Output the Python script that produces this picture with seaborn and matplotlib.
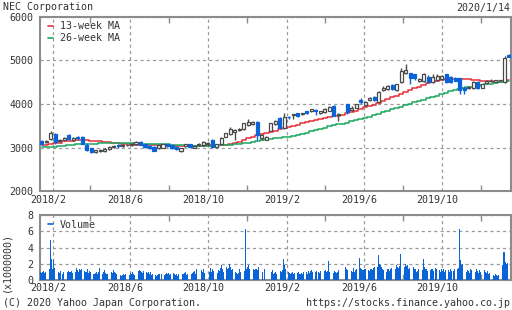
import numpy as np
import pandas as pd
import matplotlib
matplotlib.use("Agg")
import matplotlib.pyplot as plt
import matplotlib.dates as mdates
import matplotlib.transforms as mtransforms
from matplotlib.lines import Line2D
from matplotlib.ticker import FixedLocator, NullFormatter
import seaborn as sns

# ---------------- data ----------------
week_start = "2018-01-15"
n_weeks = 105
nan = float("nan")

opens = [3150, 3120, 3190, 3320, 3160, 3180, 3280, 3180, 3240, 3250,
         3050, 2990, 2890, 2930, 2920, 2960, 3020, 3060, 3040, 3060,
         3060, 3080, 3130, 3070, 3040, 3020, 2980, 3000, 3070, 3050,
         3020, 2920, 3030, 3070, 3000, 3050, 3055, 3080, 3170, 3020,
         3070, 3250, 3300, 3360, 3400, 3415, 3515, 3540, 3580, 3210,
         3180, 3385, 3530, 3670, 3440, 3700, 3740, 3785, 3770, 3840,
         3830, 3860, 3800, 3820, 3850, 3960, 3750, nan, 3990, 3860,
         3915, 4090, 3975, 4090, 4165, 4040, 4320, 4345, 4435, 4320,
         4500, 4705, 4705, 4680, 4530, 4530, 4630, 4500, 4550, 4580,
         4680, 4630, 4600, 4590, 4370, 4360, 4360, 4500, 4375, 4480,
         4530, 4510, 4545, 4500, 5125]
highs = [3170, 3170, 3380, 3330, 3200, 3230, 3300, 3240, 3270, 3260,
         3100, 3000, 2950, 2960, 2980, 3030, 3060, 3070, 3080, 3080,
         3100, 3140, 3140, 3090, 3060, 3030, 3060, 3090, 3090, 3060,
         3030, 3000, 3080, 3080, 3050, 3100, 3150, 3130, 3190, 3080,
         3240, 3340, 3460, 3420, 3450, 3570, 3650, 3600, 3600, 3300,
         3270, 3570, 3640, 3690, 3800, 3720, 3780, 3800, 3800, 3850,
         3890, 3880, 3850, 3900, 3960, 3980, 3800, nan, 4000, 3960,
         4010, 4140, 4060, 4160, 4180, 4290, 4420, 4440, 4450, 4460,
         4820, 4910, 4720, 4700, 4600, 4720, 4660, 4700, 4690, 4670,
         4700, 4650, 4620, 4600, 4420, 4420, 4520, 4520, 4460, 4550,
         4570, 4560, 4560, 5100, 5140]
lows = [3060, 3100, 3180, 3070, 3130, 3150, 3180, 3160, 3170, 3070,
        2930, 2880, 2880, 2900, 2900, 2950, 3000, 2990, 3020, 3040,
        3040, 3060, 3050, 2990, 2970, 2910, 2960, 2990, 3020, 2970,
        2940, 2900, 3020, 3010, 2990, 3040, 3040, 3060, 3000, 3000,
        3060, 3230, 3280, 3170, 3380, 3400, 3500, 3520, 3170, 3170,
        3170, 3370, 3520, 3440, 3430, 3660, 3660, 3700, 3750, 3770,
        3810, 3740, 3780, 3800, 3830, 3720, 3620, nan, 3780, 3850,
        3900, 3990, 3960, 4080, 4060, 4030, 4310, 4330, 4330, 4300,
        4490, 4690, 4450, 4560, 4510, 4510, 4490, 4480, 4530, 4560,
        4480, 4490, 4520, 4225, 4230, 4340, 4350, 4340, 4360, 4470,
        4510, 4500, 4530, 4490, 5080]
closes = [3080, 3160, 3330, 3130, 3180, 3210, 3200, 3220, 3220, 3080,
          2940, 2890, 2940, 2950, 2970, 3020, 3040, 3040, 3060, 3065,
          3090, 3130, 3060, 3010, 2980, 2925, 3050, 3080, 3030, 2980,
          2960, 2990, 3070, 3020, 3040, 3090, 3130, 3110, 3020, 3070,
          3225, 3325, 3415, 3400, 3430, 3555, 3580, 3580, 3290, 3280,
          3250, 3555, 3610, 3455, 3705, 3690, 3760, 3725, 3785, 3785,
          3875, 3850, 3830, 3880, 3920, 3730, 3780, nan, 3810, 3915,
          3990, 4050, 4050, 4145, 4090, 4270, 4375, 4420, 4345, 4450,
          4760, 4780, 4605, 4600, 4575, 4690, 4510, 4630, 4650, 4650,
          4510, 4510, 4540, 4320, 4330, 4400, 4500, 4360, 4450, 4530,
          4540, 4550, 4550, 5050, 5090]

ma13 = [3055, 3060, 3080, 3095, 3110, 3140, 3150, 3160, 3165, 3170,
        3165, 3160, 3155, 3145, 3135, 3125, 3110, 3100, 3090, 3080,
        3070, 3065, 3060, 3060, 3055, 3050, 3050, 3045, 3045, 3040,
        3040, 3035, 3030, 3030, 3025, 3025, 3030, 3040, 3050, 3055,
        3060, 3065, 3075, 3100, 3130, 3170, 3215, 3250, 3280, 3310,
        3340, 3365, 3390, 3415, 3445, 3470, 3500, 3525, 3555, 3585,
        3610, 3635, 3660, 3680, 3700, 3715, 3730, 3745, 3790, 3810,
        3840, 3880, 3920, 3950, 3985, 4030, 4070, 4110, 4150, 4190,
        4240, 4280, 4320, 4360, 4400, 4440, 4480, 4510, 4540, 4560,
        4575, 4580, 4580, 4578, 4575, 4565, 4555, 4545, 4535, 4525,
        4520, 4515, 4515, 4530, 4550]
ma26 = [3010, 3012, 3015, 3020, 3030, 3040, 3050, 3060, 3070, 3075,
        3080, 3085, 3090, 3095, 3095, 3095, 3095, 3095, 3095, 3095,
        3092, 3090, 3090, 3088, 3085, 3082, 3080, 3075, 3070, 3065,
        3060, 3055, 3050, 3045, 3040, 3035, 3035, 3035, 3040, 3045,
        3050, 3055, 3060, 3070, 3080, 3095, 3110, 3135, 3160, 3175,
        3190, 3200, 3210, 3220, 3235, 3250, 3270, 3290, 3310, 3340,
        3370, 3400, 3425, 3455, 3490, 3510, 3530, 3550, 3570, 3600,
        3630, 3650, 3680, 3710, 3745, 3780, 3815, 3850, 3880, 3910,
        3940, 3970, 4000, 4040, 4070, 4100, 4130, 4160, 4190, 4220,
        4260, 4290, 4320, 4340, 4360, 4380, 4400, 4415, 4430, 4450,
        4470, 4490, 4500, 4515, 4530]

# daily volume (x 1,000,000 shares), grouped by week
volume_by_week = [
    [0.8, 1.0, 0.9, 1.0, 1.1], [0.9, 1.0, 0.8, 1.1, 0.9], [0.9, 1.4, 4.9, 2.6, 1.3],
    [2.5, 1.5, 1.3, 1.2, 1.2], [1.0, 1.0, 0.9, 1.1], [0.8, 1.0, 1.0, 0.9, 0.7],
    [0.9, 1.0, 1.1, 1.0, 1.0], [1.1, 0.9, 1.2, 1.1, 1.0], [1.0, 1.5, 1.2, 1.0, 1.3],
    [1.2, 1.4, 1.6, 1.7], [1.1, 1.0, 1.0, 1.3, 0.9], [1.1, 1.0, 1.0, 0.9, 0.9],
    [0.8, 0.8, 0.9, 1.0, 0.7], [1.0, 1.5, 0.9, 0.8, 0.9], [0.8, 1.0, 1.2, 0.9, 0.8],
    [0.7, 0.9], [1.0, 0.9, 1.2, 1.0, 0.9], [0.8, 0.9, 1.0, 0.8, 0.7],
    [0.6, 0.5, 0.6, 0.7, 0.6], [0.7, 2.0, 0.9, 0.7, 0.8], [0.6, 0.9, 0.7, 1.0, 0.8],
    [0.6, 0.8, 1.0, 0.9, 0.7], [1.1, 1.2, 1.1, 1.0, 0.9], [1.1, 1.0, 0.9, 0.8, 1.0],
    [0.9, 1.0, 0.8, 1.0, 0.6], [0.7, 1.0, 0.8, 1.0, 0.6], [0.5, 0.6, 0.8, 0.7],
    [0.7, 0.6, 0.5, 0.8, 0.6], [0.8, 0.9, 0.7, 0.9, 0.6], [0.8, 0.7, 0.9, 0.6, 0.9],
    [0.7, 0.6, 0.8, 0.5, 0.7], [0.6, 0.8, 0.5, 0.6, 0.8], [0.7, 0.9, 1.0, 0.6, 0.7],
    [1.0, 0.8, 0.6, 0.9, 0.7], [0.9, 1.0, 1.1, 0.8, 1.3], [0.9, 1.0, 1.3, 0.8],
    [1.2, 1.0, 1.4, 0.9], [1.0, 1.3, 1.7, 1.2, 1.0], [1.5, 1.0, 1.3, 1.1],
    [0.9, 0.8, 0.7, 0.9, 1.2], [1.1, 1.5, 1.8, 1.4, 1.0], [1.2, 1.9, 2.6, 1.6, 1.4],
    [1.5, 2.0, 1.6, 1.2, 1.4], [1.8, 1.5, 1.3, 1.0, 0.9], [0.8, 0.9, 1.3, 1.0],
    [1.0, 1.3, 1.5, 1.1, 6.3], [1.4, 1.6, 1.9, 1.3, 1.8], [1.7, 2.0, 1.6, 1.4, 1.2],
    [1.3, 1.4, 1.2, 1.6, 1.9], [1.3, 1.2, 1.0, 1.0], [1.4],
    [1.6, 1.4, 1.2, 1.0, 1.2], [0.8, 0.9, 1.0, 0.7], [1.0, 0.8, 0.9, 1.1, 1.0],
    [1.2, 2.6, 1.8, 1.3, 1.1], [1.4, 1.2, 1.0, 0.9, 0.8], [0.9, 1.0, 0.8, 0.9],
    [0.8, 0.7, 0.9, 1.0, 0.7], [0.8, 0.9, 0.7, 1.0, 0.8], [0.7, 0.9, 1.0, 0.8, 1.1],
    [0.9, 1.1, 1.2, 1.0, 0.8], [1.0, 1.3, 1.0, 1.1], [1.0, 0.9, 1.1, 1.2, 1.3],
    [1.0, 0.9, 1.1, 1.2, 1.0], [1.1, 2.3, 1.0, 0.9, 1.2], [1.2, 1.0, 0.9, 1.1, 1.0],
    [0.9, 1.0, 1.2, 1.0, 0.8], [], [1.6, 1.4, 1.2, 1.5],
    [1.4, 1.2, 1.1, 1.0, 1.5], [1.0, 1.2, 1.4, 1.1, 0.9], [1.3, 2.75, 1.5, 1.3, 1.2],
    [1.2, 1.4, 1.3, 1.0, 1.1], [1.0, 1.2, 1.1, 1.3, 1.4], [1.2, 1.5, 1.6, 1.3, 1.1],
    [1.4, 1.6, 3.1, 2.0, 1.8], [1.6, 1.4, 1.2, 1.5, 1.3], [1.2, 1.0, 1.3, 1.4, 1.1],
    [1.3, 1.5, 1.2, 1.6], [1.4, 1.3, 1.8, 1.6, 1.5], [1.7, 3.2, 2.6, 1.9, 1.5],
    [1.8, 1.6, 2.0, 1.7, 1.9], [1.3, 1.5, 1.4, 1.2], [1.2, 1.6, 1.4, 1.3, 1.0],
    [1.1, 1.3, 1.5, 1.2, 1.4], [1.0, 1.2, 2.55, 1.6, 1.3], [1.3, 1.1, 1.4, 1.2, 1.5],
    [1.2, 1.4, 1.3, 1.1], [1.5, 1.3, 1.2, 1.4], [1.2, 1.0, 1.4, 1.1, 1.3],
    [1.0, 1.2, 1.1, 1.3, 1.4], [1.2, 1.0, 1.3, 1.1], [1.1, 1.3, 1.4, 1.2],
    [1.3, 1.5, 6.3, 2.5, 1.8], [2.0, 1.5, 1.3, 1.2], [1.0, 1.2, 1.1, 0.9, 1.3],
    [1.2, 1.0, 1.1, 0.9, 0.8], [1.0, 1.3, 1.1, 0.9, 1.2], [1.0, 0.9, 1.1, 1.3, 1.0],
    [1.2, 1.0, 0.9, 1.1, 0.8], [0.9, 0.8, 0.7, 0.9, 1.0], [0.6, 0.5, 0.7, 0.6, 0.5],
    [0.6], [1.9, 3.4, 3.5, 2.2, 2.0], [2.1],
]

price_ticks = [2000, 3000, 4000, 5000, 6000]
vol_ticks = [0, 2, 4, 6, 8]
major_dates = ["2018-02-01", "2018-06-01", "2018-10-01", "2019-02-01", "2019-06-01", "2019-10-01"]
major_labels = ["2018/2", "2018/6", "2018/10", "2019/2", "2019/6", "2019/10"]
minor_dates = ["2018-04-01", "2018-08-01", "2018-12-01", "2019-04-01", "2019-08-01", "2019-12-01"]

title_left = "NEC Corporation"
title_right = "2020/1/14"
foot_left = "(C) 2020 Yahoo Japan Corporation."
foot_right = "https://stocks.finance.yahoo.co.jp"

# ---------------- style ----------------
sns.set_style("white")
plt.rcParams["font.family"] = ["DejaVu Sans Mono"]
FS = 7.2
TXT = "#333333"
FRAME = "#8c8c8c"
GRID = "#9a9a9a"
BLUE = "#0a64d8"
RED = "#e8303a"
GREEN = "#1aa860"
WHITE_EDGE = "#4a4a4a"

fig = plt.figure(figsize=(5.12, 3.10), dpi=100)
axp = fig.add_axes([40 / 512, 1 - 191 / 310, 471 / 512, 174 / 310])
axv = fig.add_axes([40 / 512, 1 - 280 / 310, 471 / 512, 65 / 310])

weeks = pd.date_range(week_start, periods=n_weeks, freq="7D")
xw = mdates.date2num(weeks.to_pydatetime())
o = np.array(opens, float); h = np.array(highs, float)
l = np.array(lows, float); c = np.array(closes, float)
valid = ~np.isnan(o)
up = (c >= o) & valid
dn = (c < o) & valid

# wicks
axp.vlines(xw[up], l[up], h[up], color=WHITE_EDGE, lw=1.0, zorder=3)
axp.vlines(xw[dn], l[dn], h[dn], color=BLUE, lw=1.0, zorder=3)
# bodies
body_w = 4.8
axp.bar(xw[up], (c - o)[up], bottom=o[up], width=body_w, facecolor="white",
        edgecolor=WHITE_EDGE, linewidth=0.9, zorder=4)
axp.bar(xw[dn], (o - c)[dn], bottom=c[dn], width=body_w, facecolor=BLUE,
        edgecolor=BLUE, linewidth=0.9, zorder=4)

# moving averages
sns.lineplot(x=xw, y=ma13, ax=axp, color=RED, lw=1.1, drawstyle="steps-mid", zorder=2)
sns.lineplot(x=xw, y=ma26, ax=axp, color=GREEN, lw=1.1, drawstyle="steps-mid", zorder=2)

# volume bars
vx, vy = [], []
for i, wk in enumerate(volume_by_week):
    for j, v in enumerate(wk):
        vx.append(xw[i] - 2.8 + 1.4 * j)
        vy.append(v)
axv.bar(vx, vy, width=1.0, color=BLUE, linewidth=0, zorder=3)

xlim = (xw[0] - 2.6, xw[-1] + 3.1)
maj = mdates.date2num(pd.to_datetime(major_dates).to_pydatetime())
mnr = mdates.date2num(pd.to_datetime(minor_dates).to_pydatetime())
offset = mtransforms.ScaledTranslation(-4.5 / 100, 0, fig.dpi_scale_trans)

for ax, ylim, yt, xpad in ((axp, (2000, 6000), price_ticks, 3.0), (axv, (0, 8), vol_ticks, 2.0)):
    ax.set_xlim(*xlim)
    ax.set_ylim(*ylim)
    ax.set_yticks(yt)
    ax.set_yticklabels([str(t) for t in yt])
    ax.xaxis.set_major_locator(FixedLocator(maj))
    ax.set_xticklabels(major_labels)
    ax.xaxis.set_minor_locator(FixedLocator(mnr))
    ax.xaxis.set_minor_formatter(NullFormatter())
    ax.grid(True, which="major", color=GRID, linestyle=(0, (2.5, 2.5)), linewidth=0.9, zorder=1)
    ax.set_axisbelow(True)
    ax.tick_params(axis="x", which="major", length=0, pad=xpad, labelsize=FS, labelcolor=TXT)
    ax.tick_params(axis="x", which="minor", direction="in", length=4, width=1,
                   color=FRAME, top=True, bottom=True)
    ax.tick_params(axis="y", which="major", direction="out", length=3, width=1,
                   color=FRAME, pad=1.5, labelsize=FS, labelcolor=TXT)
    for s in ax.spines.values():
        s.set_color(FRAME)
        s.set_linewidth(1.5)
        s.set_visible(True)
    ax.set_xlabel("")
    ax.set_ylabel("")
    for lbl in ax.get_xticklabels():
        lbl.set_transform(lbl.get_transform() + offset)

# legends
h1 = [Line2D([], [], color=RED, lw=1.2), Line2D([], [], color=GREEN, lw=1.2)]
leg = axp.legend(h1, ["13-week MA", "26-week MA"], loc="upper left",
                 bbox_to_anchor=(0.016, 0.975), frameon=False, handlelength=0.55,
                 handletextpad=0.7, labelspacing=0.2, borderaxespad=0.0, borderpad=0.0,
                 prop={"family": "DejaVu Sans Mono", "size": FS})
for t in leg.get_texts():
    t.set_color(TXT)
h2 = [Line2D([], [], color=BLUE, lw=1.2)]
leg2 = axv.legend(h2, ["Volume"], loc="upper left", bbox_to_anchor=(0.016, 0.93),
                  frameon=False, handlelength=0.55, handletextpad=0.7,
                  borderaxespad=0.0, borderpad=0.0,
                  prop={"family": "DejaVu Sans Mono", "size": FS})
for t in leg2.get_texts():
    t.set_color(TXT)

# texts
fig.text(3 / 512, 1 - 7.5 / 310, title_left, ha="left", va="center", fontsize=FS, color=TXT)
fig.text(510 / 512, 1 - 7.5 / 310, title_right, ha="right", va="center", fontsize=FS, color=TXT)
fig.text(3 / 512, 1 - 302.5 / 310, foot_left, ha="left", va="center", fontsize=FS, color=TXT)
fig.text(510 / 512, 1 - 302.5 / 310, foot_right, ha="right", va="center", fontsize=FS, color=TXT)
fig.text(6.5 / 512, 1 - 262 / 310, "(x1000000)", rotation=90, ha="center", va="center",
         fontsize=FS, color=TXT)

fig.savefig("out.png", dpi=100, facecolor="white")
